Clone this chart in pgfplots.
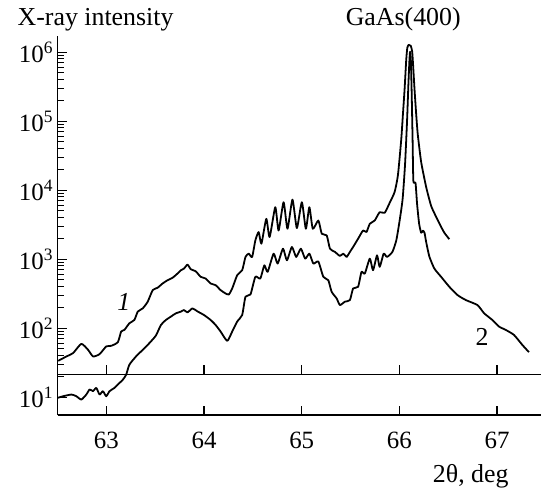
\documentclass[border=0pt]{standalone}
\usepackage{fontspec}
\setmainfont{Liberation Serif}
\usepackage{pgfplots}
\pgfplotsset{compat=1.18}

% curve 1 (upper)
\pgfplotstableread{
x y
62.506 33.6
62.591 38.9
62.659 43.5
62.743 59.2
62.812 48.5
62.863 38.9
62.930 42.0
62.998 54.3
63.049 55.4
63.117 62.6
63.151 89.3
63.184 94.2
63.235 117.7
63.286 131.3
63.321 173.5
63.372 193.6
63.423 242
63.474 356
63.524 385
63.575 444
63.626 495
63.677 537
63.728 619
63.762 691
63.795 731
63.830 834
63.864 714
63.914 668
63.965 555
64.016 524
64.067 444
64.118 420
64.169 356
64.220 318
64.254 308
64.288 376
64.339 585
64.390 691
64.424 1077
64.457 1202
64.492 1077
64.525 1870
64.559 2472
64.587 1675
64.637 3843
64.671 2094
64.729 5666
64.763 2606
64.814 6693
64.854 2760
64.905 7295
64.950 2823
65.001 6693
65.042 2760
65.078 5666
65.113 2760
65.170 3631
65.205 2336
65.256 2208
65.289 1419
65.340 1273
65.391 1114
65.425 1202
65.459 1077
65.493 1273
65.526 1502
65.577 1978
65.628 2606
65.663 2472
65.697 3258
65.747 3631
65.798 4802
65.849 4692
65.900 6537
65.951 9418
65.985 16560
66.019 54700
66.036 125600
66.053 287900
66.070 779600
66.081 1161000
66.096 1282000
66.116 1241000
66.131 1017000
66.143 559500
66.155 287900
66.172 125600
66.188 64600
66.223 25500
66.274 11120
66.325 5916
66.376 4108
66.427 2946
66.460 2415
66.511 1950
}\curveone

% curve 2 (lower)
\pgfplotstableread{
x y
62.500 9.75
62.557 10.3
62.642 10.9
62.692 10.3
62.743 9.22
62.794 10.9
62.828 12.9
62.863 12.2
62.896 13.6
62.930 10.9
62.964 12.2
62.998 10.3
63.032 12.2
63.082 13.6
63.133 16.0
63.168 17.9
63.202 21.1
63.235 29.5
63.303 38.9
63.372 48.5
63.439 60.5
63.507 78.2
63.558 111.2
63.609 131.3
63.660 147
63.711 164
63.762 173.5
63.795 183
63.830 169
63.881 193.6
63.932 175
63.999 155
64.067 131.3
64.118 111.2
64.169 89.3
64.237 65.4
64.288 89.3
64.339 124.5
64.390 155
64.424 286
64.475 308
64.525 555
64.576 524
64.617 815
64.651 655
64.712 1202
64.753 863
64.808 1419
64.848 962
64.899 1502
64.943 1077
64.991 1419
65.035 1018
65.078 1202
65.119 863
65.170 922
65.221 555
65.272 495
65.306 337
65.357 270
65.391 216
65.442 242
65.493 255
65.526 376
65.577 398
65.612 655
65.646 619
65.697 1018
65.730 691
65.771 1136
65.798 773
65.839 1202
65.873 1077
65.928 1273
65.968 1870
66.002 3597
66.033 7464
66.058 23880
66.079 106300
66.092 340000
66.103 779600
66.109 1017000
66.117 779600
66.125 287900
66.135 54700
66.143 13580
66.165 12700
66.181 6327
66.202 3258
66.223 2415
66.241 2582
66.257 2415
66.274 1774
66.307 1088
66.358 731
66.427 555
66.511 398
66.596 301
66.681 255
66.799 216
66.868 164
66.952 131.3
67.020 105.4
67.089 94.2
67.173 79.8
67.258 57.3
67.326 44.9
}\curvetwo

\begin{document}
\begin{tikzpicture}
\pgfplotsset{
    every tick label/.append style={font=\fontsize{12.5}{14}\selectfont},
    bar/.style={black, line width=0.9pt, line join=round, smooth, tension=0.35},
}
\begin{axis}[
    name=main,
    at={(0,0)}, anchor=south west,
    scale only axis,
    width=243pt, height=190.85pt,
    xmin=62.5, xmax=67.45,
    ymode=log, ymin=5.42, ymax=1.73e6,
    axis x line=bottom, axis y line=left,
    axis line style={-, line width=0.5pt},
    x axis line style={line width=1pt},
    xtick align=inside, ytick align=inside,
    xtick style={black, line width=0.7pt},
    ytick style={black, line width=0.5pt},
    major tick length=4.8pt, minor tick length=3.2pt,
    xtick={63,64,65,66,67},
    xticklabels={63,64,65,66,67},
    ytick={10,100,1000,10000,100000,1000000},
    yticklabels={10\textsuperscript{1},10\textsuperscript{2},10\textsuperscript{3},10\textsuperscript{4},10\textsuperscript{5},10\textsuperscript{6}},
    xticklabel style={yshift=-5pt},
    yticklabel style={xshift=1.5pt},
    clip=false,
]
    \addplot[bar] table {\curveone};
    \addplot[bar] table {\curvetwo};

    \node[anchor=base west, inner sep=0, font=\fontsize{13}{15}\selectfont]
        at (axis cs:62.087,2.41e6) {X-ray intensity};
    \node[anchor=base, inner sep=0, font=\fontsize{13}{15}\selectfont]
        at (axis cs:66.039,2.41e6) {GaAs(400)};
    \node[anchor=base east, inner sep=0, font=\fontsize{13}{15}\selectfont]
        at (axis cs:67.122,0.58) {2θ, deg};
    \node[font=\fontsize{13}{15}\selectfont] at (axis cs:63.179,236) {\textit{1}};
    \node[font=\fontsize{13}{15}\selectfont] at (axis cs:66.847,74) {2};
\end{axis}

% the inner base line at about 21 with its own ticks
\begin{axis}[
    at={(main.north west)}, anchor=north west,
    scale only axis,
    width=243pt, height=170.35pt,
    xmin=62.5, xmax=67.45,
    ymode=log, ymin=21.1, ymax=1.73e6,
    axis x line=bottom, axis y line=none,
    axis line style={-, line width=0.6pt},
    xtick align=inside,
    xtick style={black, line width=0.7pt},
    major tick length=4.8pt,
    xtick={63,64,65,66,67},
    xticklabels={},
    ytick=\empty,
]
\end{axis}

\path (-28.95pt,-34.65pt) rectangle (242.05pt,208.85pt);
\end{tikzpicture}
\end{document}
